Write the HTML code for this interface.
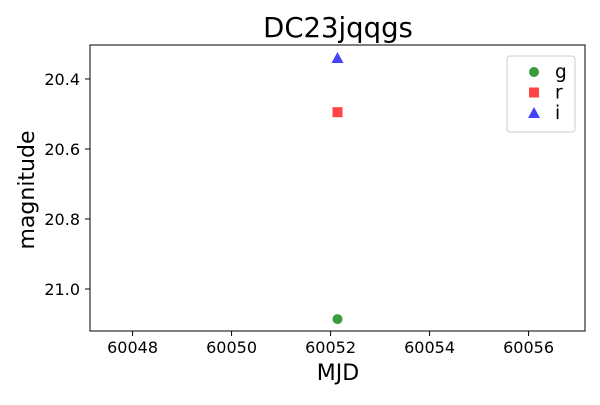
<!DOCTYPE html>
<html><head><meta charset="utf-8"><style>
body{margin:0;background:#fff;font-family:"Liberation Sans","DejaVu Sans",sans-serif;}
svg text{font-family:"DejaVu Sans","Liberation Sans",sans-serif;}
</style></head><body>
<svg id="chart" width="600" height="400" xmlns="http://www.w3.org/2000/svg"></svg>
<script>
const bands = ["g","r","i"];
const mjdValues = [60052.14, 60052.14, 60052.14];
const magValues = [21.086, 20.495, 20.34];
const xTicks = [60048, 60050, 60052, 60054, 60056];
const yTicks = [20.4, 20.6, 20.8, 21.0];
const colors = {g:"#3c9c3c", r:"#ff4444", i:"#4444ff"};

const L=90,R=585,T=45,B=331;
const xMin=60047.14,xMax=60057.14,yMin=20.303,yMax=21.12;
const sx=v=>L+(v-xMin)/(xMax-xMin)*(R-L);
const sy=v=>T+(v-yMin)/(yMax-yMin)*(B-T);
const svg=document.getElementById('chart');
const NS="http://www.w3.org/2000/svg";
function mk(tag,attrs,parent){const e=document.createElementNS(NS,tag);for(const k in attrs)e.setAttribute(k,attrs[k]);(parent||svg).appendChild(e);return e;}

const title=mk('text',{x:338,y:37,'text-anchor':'middle','font-size':27.5,fill:'#000'});
title.textContent="DC23jqqgs";



const frame=mk('rect',{x:L,y:T,width:R-L,height:B-T,fill:'none',stroke:'#000','stroke-width':1});



xTicks.forEach(t=>{
  const x=sx(t);
  const tk=mk('line',{x1:x,x2:x,y1:B,y2:B+5,stroke:'#000'});
  
  
  const lb=mk('text',{x:x,y:B+22,'text-anchor':'middle','font-size':16});
  lb.textContent=t;
  
  
});
yTicks.forEach(t=>{
  const y=sy(t);
  const tk=mk('line',{x1:L-5,x2:L,y1:y,y2:y,stroke:'#000'});
  
  
  const lb=mk('text',{x:L-10,y:y+6,'text-anchor':'end','font-size':16});
  lb.textContent=t.toFixed(1);
  
  
});
const xt=mk('text',{x:338,y:380,'text-anchor':'middle','font-size':22});
xt.textContent="MJD";


const yt=mk('text',{x:34,y:190,'text-anchor':'middle','font-size':22,transform:'rotate(-90 34 190)'});
yt.textContent="magnitude";



function marker(b,x,y,parent){
  let e;
  if(b==="g") e=mk('circle',{cx:x,cy:y,r:5,fill:colors[b]},parent);
  else if(b==="r") e=mk('rect',{x:x-5,y:y-5,width:10,height:10,fill:colors[b]},parent);
  else e=mk('polygon',{points:`${x},${y-6} ${x+6},${y+5} ${x-6},${y+5}`,fill:colors[b]},parent);
  return e;
}
bands.forEach((b,i)=>{
  const m=marker(b,sx(mjdValues[i]),sy(magValues[i]));
  
  
});

const lg=mk('g',{});


mk('rect',{x:507,y:56,width:68,height:76,rx:3,fill:'#fff',stroke:'#ccc'},lg);
bands.forEach((b,i)=>{
  const y=72+i*20.5;
  const m=marker(b,534,y,lg);
  
  
  const t=mk('text',{x:555,y:y+6,'font-size':18.5},lg);
  t.textContent=b;
  
  
});
</script>
</body></html>
